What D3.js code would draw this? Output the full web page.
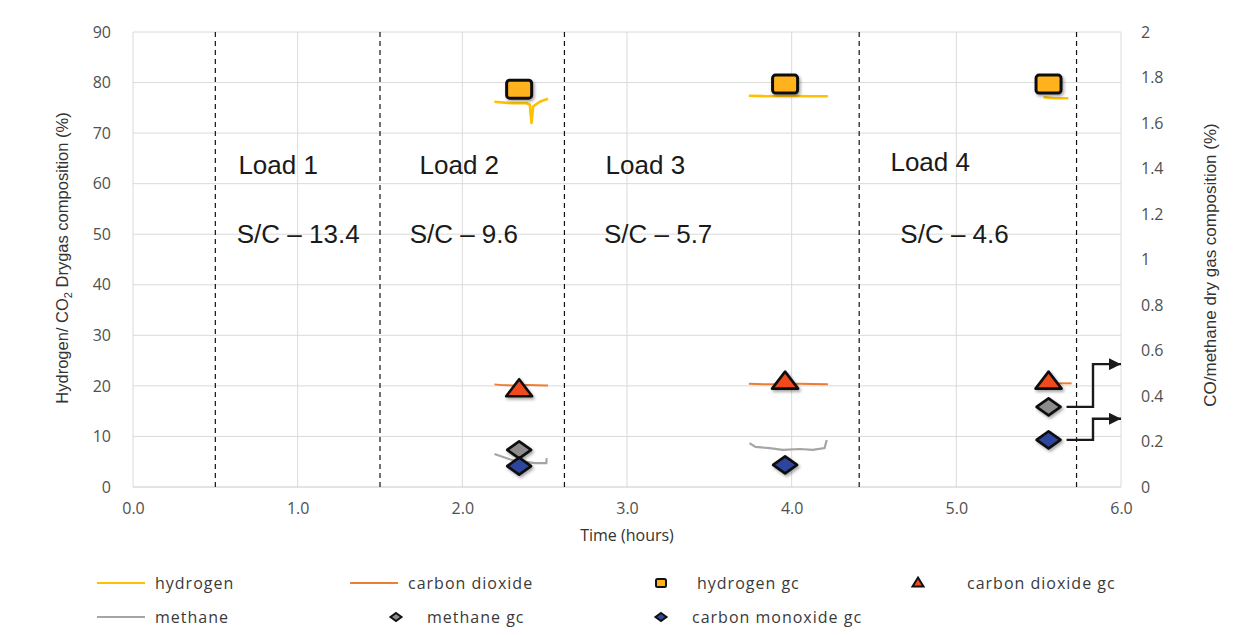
<!DOCTYPE html>
<html>
<head>
<meta charset="utf-8">
<script src="https://cdn.jsdelivr.net/npm/d3@7"></script>
<style>
  body { margin: 0; background: #fff; }
  svg { display: block; }
  .tick text { font-family: "Open Sans", sans-serif; font-size: 16px; fill: #505050; }
  .leg text { font-family: "Open Sans", sans-serif; font-size: 16px; fill: #3a3a3a; letter-spacing: 1px; }
  .load { font-family: "Liberation Sans", Arial, sans-serif; font-size: 26px; fill: #1a1a1a; }
</style>
</head>
<body>
<svg id="chart" width="1238" height="635"></svg>
<script>
// --- data ---
const xTicks = [0, 1, 2, 3, 4, 5, 6];
const yLeftTicks = [0, 10, 20, 30, 40, 50, 60, 70, 80, 90];
const yRightTicks = [0, 0.2, 0.4, 0.6, 0.8, 1, 1.2, 1.4, 1.6, 1.8, 2];

// load boundaries (hours)
const loadBounds = [0.5, 1.5, 2.62, 4.41, 5.73];
const loadNames = ["Load 1", "Load 2", "Load 3", "Load 4"];
const loadNameAt = [0.64, 1.74, 2.87, 4.6];
const scNames = ["S/C \u2013 13.4", "S/C \u2013 9.6", "S/C \u2013 5.7", "S/C \u2013 4.6"];
const scNameAt = [0.63, 1.68, 2.86, 4.66];

// online analyser traces, [time, value], one array per load
const hydrogen = [
  [[2.195, 76.2], [2.3, 75.9], [2.39, 75.9], [2.41, 75.6], [2.42, 72.0], [2.43, 75.3], [2.47, 76.2], [2.52, 76.8]],
  [[3.74, 77.4], [3.85, 77.3], [3.96, 77.4], [4.1, 77.3], [4.22, 77.3]],
  [[5.53, 77.1], [5.6, 76.9], [5.68, 76.9]]
];
const carbonDioxide = [
  [[2.195, 20.3], [2.3, 20.1], [2.4, 20.2], [2.52, 20.1]],
  [[3.74, 20.4], [3.9, 20.3], [4.05, 20.4], [4.22, 20.3]],
  [[5.6, 20.5], [5.7, 20.5]]
];
// methane on the right axis
const methane = [
  [[2.195, 0.145], [2.3, 0.119], [2.44, 0.105], [2.51, 0.105], [2.512, 0.127]],
  [[3.744, 0.193], [3.78, 0.176], [3.866, 0.171], [3.945, 0.163], [4.05, 0.167], [4.128, 0.163], [4.2, 0.171], [4.213, 0.207]]
];

// gas chromatograph samples
const gcTime = [2.345, 3.96, 5.56];
const hydrogenGc = [78.7, 79.7, 79.7];
const carbonDioxideGc = [19.3, 20.8, 20.8];
const methaneGcTime = [2.345, 5.56];
const methaneGc = [0.163, 0.352];
const coGc = [0.092, 0.097, 0.207];

// arrows pointing the load 4 CO / methane points at the right axis
const arrowFrom = [0.352, 0.207];
const arrowTo = [0.54, 0.3];

// --- layout ---
const svg = d3.select("#chart");
const margin = { left: 133, right: 117, top: 32, bottom: 148 };
const width = 1238 - margin.left - margin.right;
const height = 635 - margin.top - margin.bottom;

const x = d3.scaleLinear().domain([0, 6]).range([margin.left, margin.left + width]);
const yL = d3.scaleLinear().domain([0, 90]).range([margin.top + height, margin.top]);
const yR = d3.scaleLinear().domain([0, 2]).range([margin.top + height, margin.top]);

const defs = svg.append("defs");
const sh = defs.append("filter").attr("id", "shadow").attr("x", "-50%").attr("y", "-50%").attr("width", "200%").attr("height", "200%");
sh.append("feDropShadow").attr("dx", 1.5).attr("dy", 2).attr("stdDeviation", 1.5).attr("flood-color", "#000").attr("flood-opacity", 0.35);
defs.append("marker").attr("id", "arrow").attr("viewBox", "0 0 10 10")
  .attr("refX", 10).attr("refY", 5).attr("markerWidth", 5).attr("markerHeight", 5)
  .attr("markerUnits", "strokeWidth").attr("orient", "auto")
  .append("path").attr("d", "M0,0L10,5L0,10Z").attr("fill", "#1a1a1a");

// grid
const grid = svg.append("g");
grid.selectAll("line.h").data(yLeftTicks.slice(1)).join("line")
  .attr("x1", x(0)).attr("x2", x(6)).attr("y1", d => yL(d)).attr("y2", d => yL(d))
  .attr("stroke", "#dadada").attr("stroke-width", 1);
grid.selectAll("line.v").data(xTicks).join("line")
  .attr("x1", d => x(d)).attr("x2", d => x(d)).attr("y1", yL(0)).attr("y2", yL(90))
  .attr("stroke", "#dadada").attr("stroke-width", 1);
grid.append("line").attr("x1", x(0)).attr("x2", x(6)).attr("y1", yL(0)).attr("y2", yL(0))
  .attr("stroke", "#c8c8c8");

// axes
const fmtR = d => d3.format("~g")(d);
svg.append("g").attr("transform", `translate(${x(0)},0)`)
  .call(d3.axisLeft(yL).tickValues(yLeftTicks).tickSize(0).tickPadding(22))
  .call(g => g.select(".domain").remove());
svg.append("g").attr("transform", `translate(${x(6)},0)`)
  .call(d3.axisRight(yR).tickValues(yRightTicks).tickFormat(fmtR).tickSize(0).tickPadding(20))
  .call(g => g.select(".domain").remove());
svg.append("g").attr("transform", `translate(0,${yL(0)})`)
  .call(d3.axisBottom(x).tickValues(xTicks).tickFormat(d3.format(".1f")).tickSize(0).tickPadding(16))
  .call(g => g.select(".domain").remove());

// axis titles
svg.append("text").attr("x", x(3)).attr("y", 541).attr("text-anchor", "middle")
  .attr("font-family", "Open Sans, sans-serif").attr("font-size", 16).attr("fill", "#333")
  .text("Time (hours)");
const yt = svg.append("text").attr("transform", "translate(68,258) rotate(-90)").attr("text-anchor", "middle")
  .attr("font-family", "Liberation Sans Narrow, Liberation Sans, sans-serif").attr("font-size", 16.5).attr("fill", "#333");
yt.append("tspan").text("Hydrogen/ CO");
yt.append("tspan").attr("font-size", 11).attr("dy", 4).text("2");
yt.append("tspan").attr("dy", -4).text(" Drygas composition (%)");
svg.append("text").attr("transform", "translate(1216,265) rotate(-90)").attr("text-anchor", "middle")
  .attr("font-family", "Liberation Sans Narrow, Liberation Sans, sans-serif").attr("font-size", 17).attr("fill", "#333")
  .text("CO/methane dry gas composition (%)");

// load boundaries
svg.append("g").selectAll("line").data(loadBounds).join("line")
  .attr("x1", d => x(d)).attr("x2", d => x(d)).attr("y1", yL(90)).attr("y2", yL(0))
  .attr("stroke", "#111").attr("stroke-width", 1.2).attr("stroke-dasharray", "5,4");

// load labels
svg.append("g").selectAll("text").data(loadNames).join("text").attr("class", "load")
  .attr("x", (d, i) => x(loadNameAt[i])).attr("y", (d, i) => i === 3 ? 171 : 174).text(d => d);
svg.append("g").selectAll("text").data(scNames).join("text").attr("class", "load")
  .attr("x", (d, i) => x(scNameAt[i])).attr("y", 243).text(d => d);

// traces
const lineL = d3.line().x(d => x(d[0])).y(d => yL(d[1])).curve(d3.curveMonotoneX);
const lineR = d3.line().x(d => x(d[0])).y(d => yR(d[1]));
svg.append("g").selectAll("path").data(methane).join("path")
  .attr("d", lineR).attr("fill", "none").attr("stroke", "#a5a5a5").attr("stroke-width", 2.2);
svg.append("g").selectAll("path").data(hydrogen).join("path")
  .attr("d", d3.line().x(d => x(d[0])).y(d => yL(d[1]))).attr("fill", "none")
  .attr("stroke", "#ffc000").attr("stroke-width", 2.6).attr("stroke-linejoin", "round");
svg.append("g").selectAll("path").data(carbonDioxide).join("path")
  .attr("d", lineL).attr("fill", "none").attr("stroke", "#ed7d31").attr("stroke-width", 2);

// marker shapes
const diamond = (w, h) => `M0,${-h / 2}L${w / 2},0L0,${h / 2}L${-w / 2},0Z`;
const triangle = (w, h) => `M0,${-h * 0.6}L${w / 2},${h * 0.4}L${-w / 2},${h * 0.4}Z`;

const gc = svg.append("g").attr("filter", "url(#shadow)");
gc.selectAll("rect").data(hydrogenGc).join("rect")
  .attr("x", (d, i) => x(gcTime[i]) - 12.5).attr("y", d => yL(d) - 9)
  .attr("width", 25).attr("height", 18).attr("rx", 3)
  .attr("fill", "#ffb21c").attr("stroke", "#111").attr("stroke-width", 3);
gc.selectAll("path.co2").data(carbonDioxideGc).join("path").attr("class", "co2")
  .attr("transform", (d, i) => `translate(${x(gcTime[i])},${yL(d)})`)
  .attr("d", triangle(26, 17)).attr("fill", "#f04a1e").attr("stroke", "#111").attr("stroke-width", 2.6)
  .attr("stroke-linejoin", "round");
gc.selectAll("path.ch4").data(methaneGc).join("path").attr("class", "ch4")
  .attr("transform", (d, i) => `translate(${x(methaneGcTime[i])},${yR(d)})`)
  .attr("d", diamond(24, 17)).attr("fill", "#8c8c8c").attr("stroke", "#111").attr("stroke-width", 2.6)
  .attr("stroke-linejoin", "round");
gc.selectAll("path.co").data(coGc).join("path").attr("class", "co")
  .attr("transform", (d, i) => `translate(${x(gcTime[i])},${yR(d)})`)
  .attr("d", diamond(24, 17)).attr("fill", "#2f45a0").attr("stroke", "#111").attr("stroke-width", 2.6)
  .attr("stroke-linejoin", "round");

// elbow arrows
svg.append("g").selectAll("path").data(arrowFrom).join("path")
  .attr("d", (d, i) => {
    const x0 = x(gcTime[2]) + 18, xe = x(5.83), x1 = x(6);
    return `M${x0},${yR(d)}H${xe}V${yR(arrowTo[i])}H${x1}`;
  })
  .attr("fill", "none").attr("stroke", "#1a1a1a").attr("stroke-width", 2.4)
  .attr("marker-end", "url(#arrow)");

// legend
const legend = [
  { label: "hydrogen", type: "line", color: "#ffc000", x: 97, y: 583 },
  { label: "carbon dioxide", type: "line", color: "#ed7d31", x: 350, y: 583 },
  { label: "hydrogen gc", type: "square", color: "#ffb21c", x: 661, y: 583 },
  { label: "carbon dioxide gc", type: "triangle", color: "#f04a1e", x: 918, y: 583 },
  { label: "methane", type: "line", color: "#a5a5a5", x: 97, y: 617 },
  { label: "methane gc", type: "diamond", color: "#8c8c8c", x: 396, y: 617 },
  { label: "carbon monoxide gc", type: "diamond", color: "#2f45a0", x: 661, y: 617 }
];
const leg = svg.append("g").attr("class", "leg").selectAll("g").data(legend).join("g")
  .attr("transform", d => `translate(${d.x},${d.y})`);
leg.each(function(d) {
  const g = d3.select(this);
  let tx;
  if (d.type === "line") {
    g.append("line").attr("x1", 0).attr("x2", 48).attr("stroke", d.color).attr("stroke-width", 2);
    tx = 58;
  } else {
    tx = d.type === "triangle" ? 49 : d.type === "square" ? 36 : 31;
    if (d.type === "square") g.append("rect").attr("x", -5).attr("y", -4).attr("width", 10).attr("height", 8).attr("rx", 1.5);
    if (d.type === "triangle") g.append("path").attr("d", triangle(11, 9));
    if (d.type === "diamond") g.append("path").attr("d", diamond(11, 8));
    g.selectAll("rect,path").attr("fill", d.color).attr("stroke", "#111").attr("stroke-width", 2);
  }
  g.append("text").attr("x", tx).attr("dy", "0.35em").text(d.label);
});
</script>
</body>
</html>
